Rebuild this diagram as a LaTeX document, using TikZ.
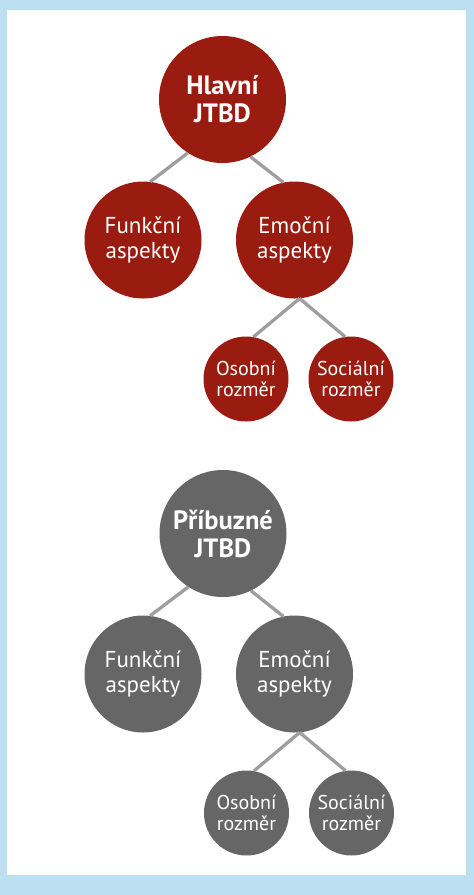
\documentclass[tikz,border=0pt]{standalone}
\usepackage{fontspec}
\setmainfont{PT Sans}
\usepackage{xcolor}
\usepackage{tikz}
\definecolor{jtbdred}{RGB}{154, 28, 16}
\definecolor{jtbdgray}{RGB}{102, 102, 102}
\definecolor{framesky}{RGB}{187, 224, 242}
\definecolor{linkgray}{RGB}{158, 158, 158}

\tikzset{
    rootnode/.style={circle,inner sep=0pt,minimum size=127pt,text=white,align=center,
        font=\bfseries\fontsize{26.5}{28}\selectfont},
    aspectnode/.style={circle,inner sep=0pt,minimum size=117pt,text=white,align=center,
        font=\fontsize{23}{25}\selectfont},
    dimnode/.style={circle,inner sep=0pt,minimum size=85pt,text=white,align=center,
        font=\fontsize{20}{20.5}\selectfont},
    link/.style={line width=3.3pt,linkgray}
}

\begin{document}
\begin{tikzpicture}[x=1pt,y=-1pt]
    % Frame
    \fill[framesky] (0,0) rectangle (474,895);
    \fill[white] (7,10) rectangle (466,875);
    \useasboundingbox (0,0) rectangle (474,895);

    % Main job tree
    \node[rootnode,fill=jtbdred] (mainroot) at (222.5,99.5) {Hlavní\\JTBD};
    \node[aspectnode,fill=jtbdred] (mainfunc) at (143,240) {Funkční\\aspekty};
    \node[aspectnode,fill=jtbdred] (mainemo) at (294.5,240) {Emoční\\aspekty};
    \node[dimnode,fill=jtbdred] (mainpers) at (246,379) {Osobní\\rozměr};
    \node[dimnode,fill=jtbdred] (mainsoc) at (351,379) {Sociální\\rozměr};
    \draw[link] (mainroot.237) -- (mainfunc.83);
    \draw[link] (mainroot.296) -- (mainemo.101);
    \draw[link] (mainemo.275) -- (mainpers.80);
    \draw[link] (mainemo.275) -- (mainsoc.98);

    % Related job tree
    \node[rootnode,fill=jtbdgray] (relroot) at (223,533.5) {Příbuzné\\JTBD};
    \node[aspectnode,fill=jtbdgray] (relfunc) at (143,674) {Funkční\\aspekty};
    \node[aspectnode,fill=jtbdgray] (relemo) at (294.5,674) {Emoční\\aspekty};
    \node[dimnode,fill=jtbdgray] (relpers) at (246.5,813) {Osobní\\rozměr};
    \node[dimnode,fill=jtbdgray] (relsoc) at (351.5,813) {Sociální\\rozměr};
    \draw[link] (relroot.237) -- (relfunc.83);
    \draw[link] (relroot.296) -- (relemo.101);
    \draw[link] (relemo.275) -- (relpers.80);
    \draw[link] (relemo.275) -- (relsoc.98);
\end{tikzpicture}
\end{document}
